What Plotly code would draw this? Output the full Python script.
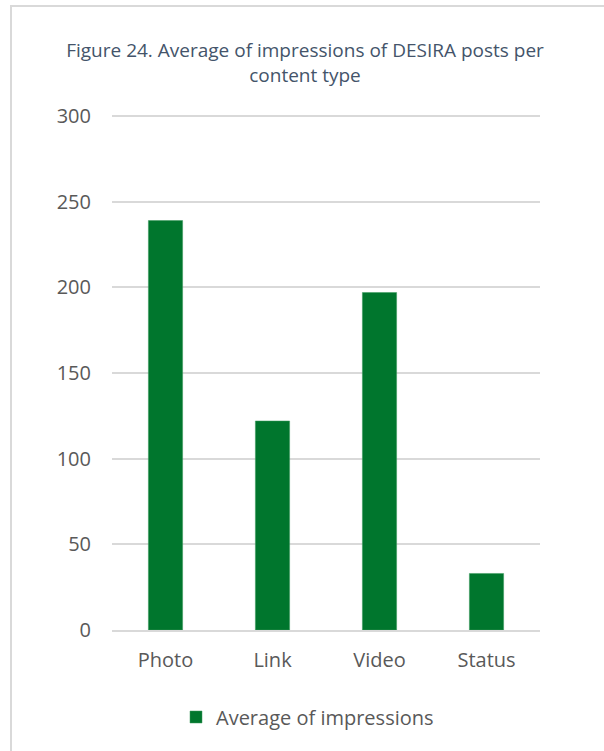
import plotly.graph_objects as go

categories = ["Photo", "Link", "Video", "Status"]
values = [239, 122, 197, 33]
series_name = "Average of impressions"
title_text = "Figure 24. Average of impressions of DESIRA posts per<br>content type"
y_ticks = [0, 50, 100, 150, 200, 250, 300]

W, H = 604, 751
L, R, T, B = 112, 64, 115, 121
pw, ph = W - L - R, H - T - B

def px_x(px):
    return (px - L) / pw

def px_y(py):
    return (H - B - py) / ph

font_family = "Open Sans"
fig = go.Figure()
fig.add_trace(go.Bar(
    x=categories, y=values, name=series_name,
    marker=dict(color="#00762D", line=dict(color="#3C9A5E", width=0.5)),
    width=0.32, showlegend=True,
))

fig.update_layout(
    width=W, height=H,
    margin=dict(l=L, r=R, t=T, b=B, autoexpand=False),
    paper_bgcolor="white", plot_bgcolor="white",
    font=dict(family=font_family, color="#595959", size=20),
    title=dict(text=title_text, x=0.505, xanchor="center", y=1 - 57 / H, yanchor="middle",
               font=dict(family=font_family, size=19, color="#44546A")),
    showlegend=True,
    legend=dict(orientation="h", x=px_x(176), xanchor="left", y=px_y(717), yanchor="middle",
                font=dict(size=20, color="#595959"), itemwidth=30),
    bargap=0.68,
)
fig.update_yaxes(range=[0, 300.6], tickvals=y_ticks, showgrid=True, gridcolor="#D9D9D9", gridwidth=1.5,
                 zeroline=False, showline=False, ticks="", ticklabelstandoff=20,
                 tickfont=dict(size=20, color="#595959"), fixedrange=True)
fig.update_xaxes(showgrid=False, showline=True, linecolor="#D9D9D9", linewidth=1.5, ticks="",
                 ticklabelstandoff=11, tickfont=dict(size=20, color="#595959"))

fig.add_shape(type="rect", xref="paper", yref="paper",
              x0=px_x(11), x1=px_x(620), y0=px_y(770), y1=px_y(6),
              line=dict(color="#D9D9D9", width=2), fillcolor="rgba(0,0,0,0)", layer="below")

fig.write_html("out.html")
